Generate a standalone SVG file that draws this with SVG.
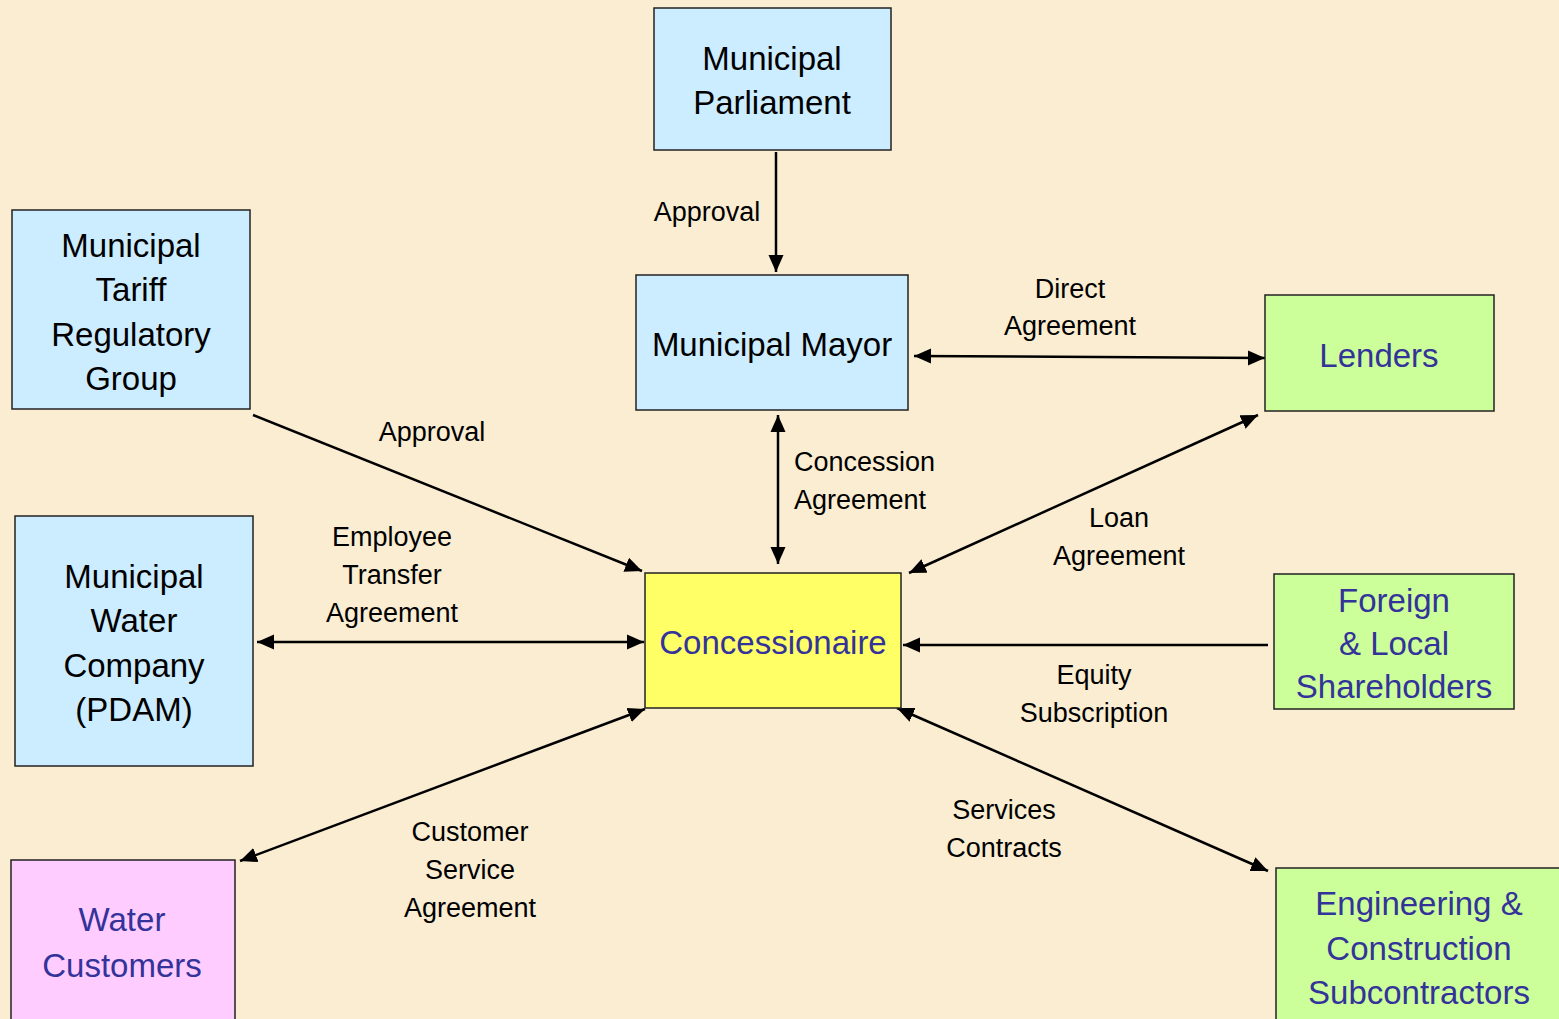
<svg xmlns="http://www.w3.org/2000/svg" width="1559" height="1019" viewBox="0 0 1559 1019">
<style>
.box{stroke:#222;stroke-width:1.5}
.blue{fill:#CCECFF}
.green{fill:#CCFF99}
.yellow{fill:#FFFF66}
.pink{fill:#FFCCFF}
.bt{font-family:"Liberation Sans",Arial,sans-serif;font-size:33px;text-anchor:middle}
.dark{fill:#000}
.navy{fill:#333399}
.lbl{font-family:"Liberation Sans",Arial,sans-serif;font-size:27px;fill:#000;text-anchor:middle}
.con{stroke:#000;stroke-width:2.5;fill:none}
</style>
<defs>
<marker id="ah" markerUnits="userSpaceOnUse" markerWidth="18" markerHeight="16" refX="17" refY="8" orient="auto-start-reverse">
<path d="M0,0.5 L17,8 L0,15.5 z" fill="#000"/>
</marker>
</defs>
<rect width="1559" height="1019" fill="#FAEDD2"/>

<g id="connectors">
<line class="con" x1="776" y1="152" x2="776" y2="272" marker-end="url(#ah)"/>
<line class="con" x1="778" y1="415" x2="778" y2="564" marker-start="url(#ah)" marker-end="url(#ah)"/>
<line class="con" x1="914" y1="356" x2="1265" y2="358" marker-start="url(#ah)" marker-end="url(#ah)"/>
<line class="con" x1="253" y1="415" x2="642" y2="571" marker-end="url(#ah)"/>
<line class="con" x1="257" y1="642" x2="644" y2="642" marker-start="url(#ah)" marker-end="url(#ah)"/>
<line class="con" x1="240" y1="861" x2="645" y2="709" marker-start="url(#ah)" marker-end="url(#ah)"/>
<line class="con" x1="1258" y1="415" x2="909" y2="573" marker-start="url(#ah)" marker-end="url(#ah)"/>
<line class="con" x1="1268" y1="645" x2="903" y2="645" marker-end="url(#ah)"/>
<line class="con" x1="897" y1="708" x2="1268" y2="871" marker-start="url(#ah)" marker-end="url(#ah)"/>
</g>

<g id="labels">
<text class="lbl" x="707" y="221">Approval</text>
<text class="lbl" x="1070" y="298">Direct</text>
<text class="lbl" x="1070" y="335">Agreement</text>
<text class="lbl" x="432" y="441">Approval</text>
<text class="lbl" x="794" y="471" style="text-anchor:start">Concession</text>
<text class="lbl" x="794" y="509" style="text-anchor:start">Agreement</text>
<text class="lbl" x="392" y="546">Employee</text>
<text class="lbl" x="392" y="584">Transfer</text>
<text class="lbl" x="392" y="622">Agreement</text>
<text class="lbl" x="1119" y="527">Loan</text>
<text class="lbl" x="1119" y="565">Agreement</text>
<text class="lbl" x="1094" y="684">Equity</text>
<text class="lbl" x="1094" y="722">Subscription</text>
<text class="lbl" x="1004" y="819">Services</text>
<text class="lbl" x="1004" y="857">Contracts</text>
<text class="lbl" x="470" y="841">Customer</text>
<text class="lbl" x="470" y="879">Service</text>
<text class="lbl" x="470" y="917">Agreement</text>
</g>

<g id="municipal-parliament">
<rect class="box blue" x="654" y="8" width="237" height="142"/>
<text class="bt dark" x="772" y="70">Municipal</text>
<text class="bt dark" x="772" y="114">Parliament</text>
</g>
<g id="municipal-mayor">
<rect class="box blue" x="636" y="275" width="272" height="135"/>
<text class="bt dark" x="772" y="356">Municipal Mayor</text>
</g>
<g id="tariff-group">
<rect class="box blue" x="12" y="210" width="238" height="199"/>
<text class="bt dark" x="131" y="257">Municipal</text>
<text class="bt dark" x="131" y="301">Tariff</text>
<text class="bt dark" x="131" y="346">Regulatory</text>
<text class="bt dark" x="131" y="390">Group</text>
</g>
<g id="water-company">
<rect class="box blue" x="15" y="516" width="238" height="250"/>
<text class="bt dark" x="134" y="588">Municipal</text>
<text class="bt dark" x="134" y="632">Water</text>
<text class="bt dark" x="134" y="677">Company</text>
<text class="bt dark" x="134" y="721">(PDAM)</text>
</g>
<g id="water-customers">
<rect class="box pink" x="11" y="860" width="224" height="170"/>
<text class="bt navy" x="122" y="931">Water</text>
<text class="bt navy" x="122" y="977">Customers</text>
</g>
<g id="concessionaire">
<rect class="box yellow" x="645" y="573" width="256" height="135"/>
<text class="bt navy" x="773" y="654">Concessionaire</text>
</g>
<g id="lenders">
<rect class="box green" x="1265" y="295" width="229" height="116"/>
<text class="bt navy" x="1379" y="367">Lenders</text>
</g>
<g id="shareholders">
<rect class="box green" x="1274" y="574" width="240" height="135"/>
<text class="bt navy" x="1394" y="612">Foreign</text>
<text class="bt navy" x="1394" y="655">&amp; Local</text>
<text class="bt navy" x="1394" y="698">Shareholders</text>
</g>
<g id="engineering">
<rect class="box green" x="1276" y="868" width="300" height="170"/>
<text class="bt navy" x="1419" y="915">Engineering &amp;</text>
<text class="bt navy" x="1419" y="960">Construction</text>
<text class="bt navy" x="1419" y="1004">Subcontractors</text>
</g>
</svg>
